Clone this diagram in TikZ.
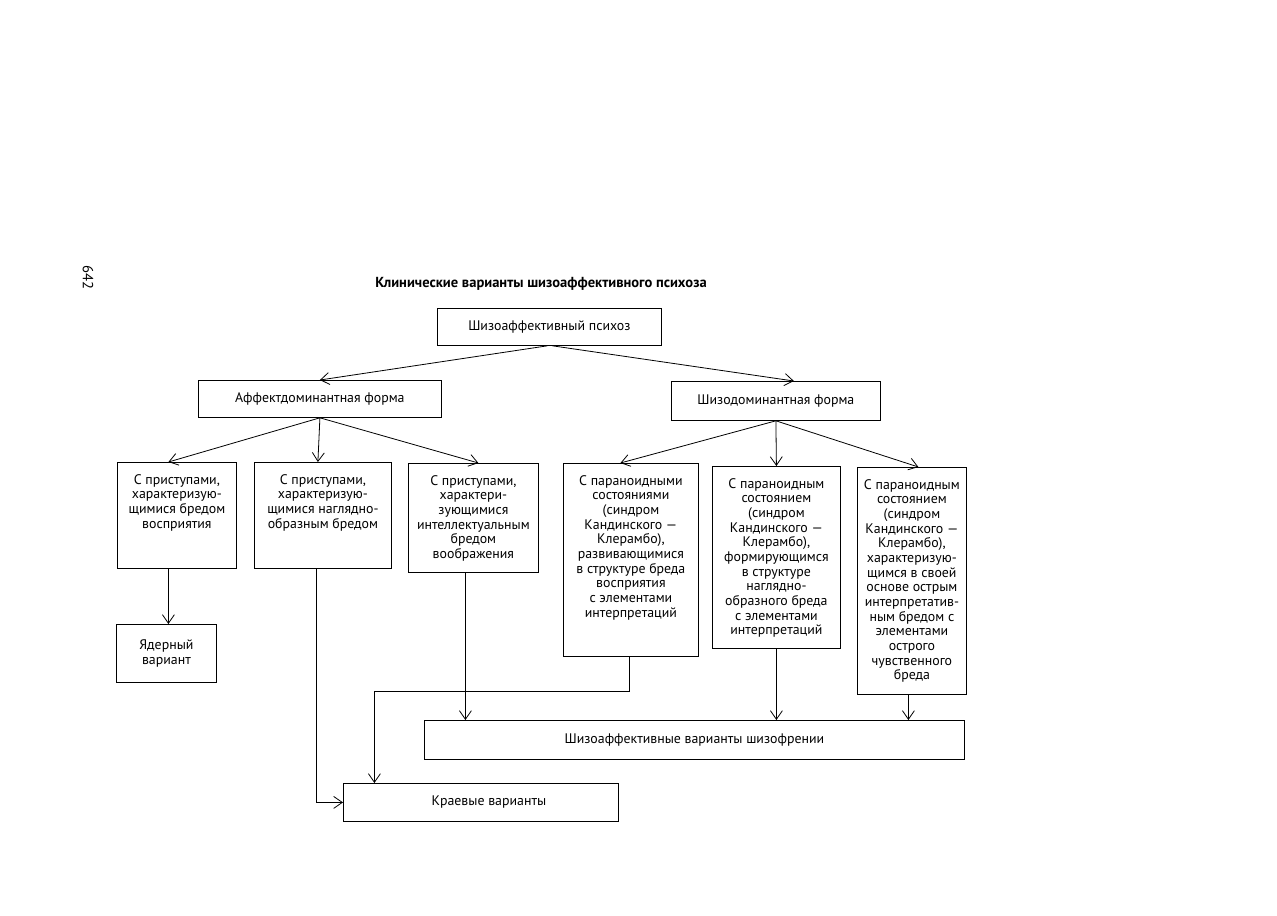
\documentclass[tikz,border=0pt]{standalone}
\usepackage{fontspec}
\setmainfont{PT Sans}
\usetikzlibrary{arrows.meta,calc}
\newdimen\upx \upx=0.75pt
\newcommand\topbox[3]{\parbox[b][#2\upx][t]{#1\upx}{\centering\vspace*{8.8pt}#3}}
\begin{document}
\begin{tikzpicture}[x=0.75pt,y=-0.75pt,
  font=\fontsize{10.4}{11}\selectfont,
  box/.style={draw, line width=0.6pt, inner sep=0pt, anchor=north west},
  arr/.style={draw, line width=0.6pt, -{Straight Barb[length=6.5pt,width=9pt]}}]
\useasboundingbox (0,0) rectangle (1277,915);
\fill[white] (0,0) rectangle (1277,915);

\node[rotate=-90, font=\fontsize{11}{12}\selectfont] (pg) at (88,277) {642};
\node[font=\bfseries\fontsize{10.9}{12}\selectfont] (title) at (541,284) {Клинические варианты шизоаффективного психоза};

\node[box, minimum width=168pt, minimum height=27.75pt] (root) at (437,308) {Шизоаффективный психоз};
\node[box, minimum width=182.25pt, minimum height=27.75pt] (aff) at (198,380) {Аффектдоминантная форма};
\node[box, minimum width=156.75pt, minimum height=29.25pt] (sch) at (671,381) {Шизодоминантная форма};

\node[box] (a1) at (117,462) {\topbox{119}{106}{С приступами,\\характеризую-\\щимися бредом\\восприятия}};
\node[box] (a2) at (254,462) {\topbox{137}{106}{С приступами,\\характеризую-\\щимися наглядно-\\образным бредом}};
\node[box] (a3) at (408,463) {\topbox{130}{109}{С приступами,\\характери-\\зующимися\\интеллектуальным\\бредом\\воображения}};

\node[box] (s1) at (563,463) {\topbox{135}{193}{С параноидными\\состояниями\\(синдром\\Кандинского —\\Клерамбо),\\развивающимися\\в структуре бреда\\восприятия\\с элементами\\интерпретаций}};
\node[box] (s2) at (712,466) {\topbox{128}{182}{С параноидным\\состоянием\\(синдром\\Кандинского —\\Клерамбо),\\формирующимся\\в структуре\\наглядно-\\образного бреда\\с элементами\\интерпретаций}};
\node[box] (s3) at (857,467) {\topbox{109}{227}{С параноидным\\состоянием\\(синдром\\Кандинского —\\Клерамбо),\\характеризую-\\щимся в своей\\основе острым\\интерпретатив-\\ным бредом с\\элементами\\острого\\чувственного\\бреда}};

\node[box, minimum width=75pt, minimum height=43.5pt, align=center] (nuc) at (116,624) {Ядерный\\вариант};
\node[box, minimum width=405pt, minimum height=29.25pt] (sv) at (424,720) {Шизоаффективные варианты шизофрении};
\node[box, minimum width=206.25pt, minimum height=28.5pt] (kr) at (343,783) {\hspace*{12pt}Краевые варианты};

% top level arrows
\draw[arr] ($(root.south)+(-2,0)$) -- (aff.north);
\draw[arr] ($(root.south)+(3,0)$) -- ($(sch.north)+(18,0)$);
\draw[arr] (aff.south) -- ($(a1.north)+(-8.5,0)$);
\draw[arr] (aff.south) -- ($(a2.north)+(-5,0)$);
\draw[arr] (aff.south) -- ($(a3.north)+(5,0)$);
\draw[arr] (sch.south) -- ($(s1.north)+(-10.5,0)$);
\draw[arr] (sch.south) -- (s2.north);
\draw[arr] (sch.south) -- ($(s3.north)+(6.5,0)$);

% lower connectors
\coordinate (p1) at ($(a1.south)+(-8.5,0)$);
\draw[arr] (p1) -- (p1 |- nuc.north);
\coordinate (p2) at ($(a2.south)+(-6.5,0)$);
\draw[arr] (p2) |- (kr.west);
\coordinate (p3) at ($(a3.south)+(-8,0)$);
\draw[arr] (p3) -- (p3 |- sv.north);
\coordinate (turn) at ($(s1.south)+(-1.5,35)$);
\coordinate (q) at ($(kr.north)+(-106.5,0)$);
\draw[arr] ($(s1.south)+(-1.5,0)$) -- (turn) -| (q);
\draw[arr] (s2.south) -- (s2.south |- sv.north);
\coordinate (p6) at ($(s3.south)+(-3.5,0)$);
\draw[arr] (p6) -- (p6 |- sv.north);
\end{tikzpicture}
\end{document}
